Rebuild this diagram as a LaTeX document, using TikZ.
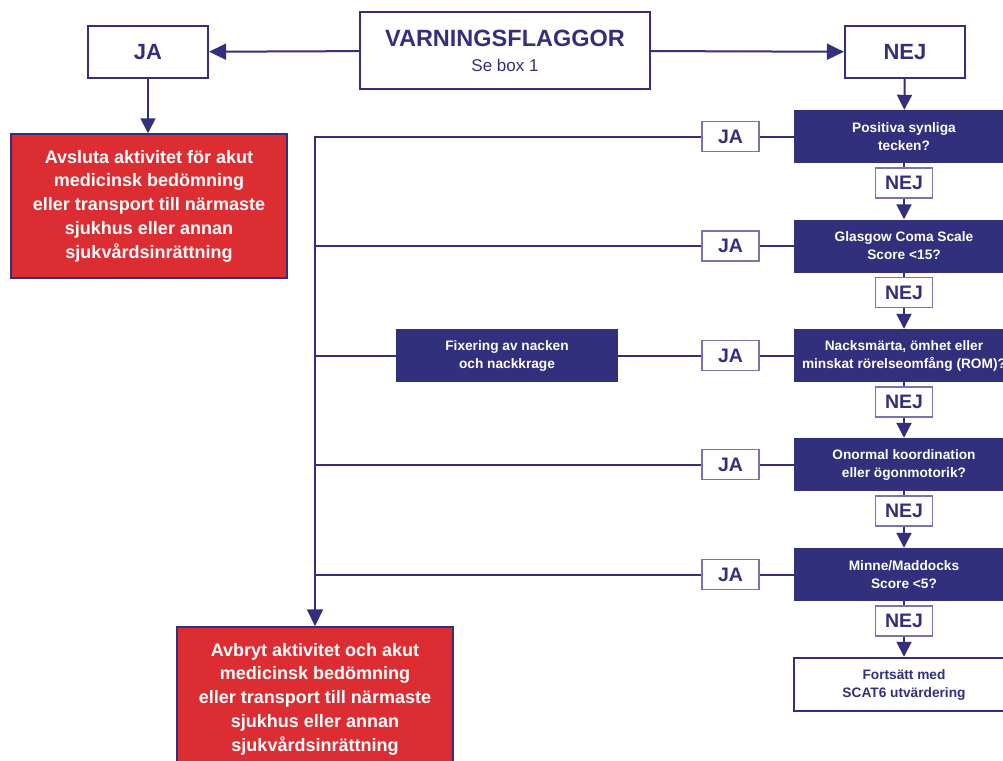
\documentclass[tikz,border=0pt]{standalone}
\usepackage{fontspec}
\setmainfont{Liberation Sans}
\usetikzlibrary{arrows.meta}

\definecolor{navy}{RGB}{50,47,125}
\definecolor{alarm}{RGB}{220,45,50}
\definecolor{lightnavy}{RGB}{120,116,175}

\tikzset{
    topbox/.style={draw=navy, line width=2.2pt, fill=white, text=navy, inner sep=0pt},
    stopbox/.style={draw=navy, line width=1.5pt, fill=alarm, text=white, align=center, inner sep=0pt,
        minimum width=276pt, minimum height=144pt, font=\bfseries\fontsize{18}{23.8}\selectfont},
    qbox/.style={fill=navy, text=white, align=center, inner sep=0pt,
        minimum width=220pt, minimum height=53pt, font=\bfseries\fontsize{13.7}{18}\selectfont},
    answer/.style={draw=lightnavy, line width=1.3pt, fill=white, text=navy, inner sep=0pt,
        minimum width=57pt, minimum height=30pt, font=\bfseries\fontsize{19.5}{19.5}\selectfont},
    link/.style={draw=navy, line width=2pt},
    arr/.style={link, -{Triangle[length=15pt,width=15pt]}},
    bigarr/.style={link, -{Triangle[length=17pt,width=16pt]}},
}

\begin{document}
\begin{tikzpicture}[x=1pt, y=-1pt]
    \useasboundingbox (0,0) rectangle (1003,760);

    % top row
    \node[topbox, minimum width=290pt, minimum height=77pt, align=center, font=\fontsize{17}{25}\selectfont] (varn) at (505,50.5)
        {{\bfseries\fontsize{23.5}{28}\selectfont VARNINGSFLAGGOR}\\Se box 1};
    \node[topbox, minimum width=120pt, minimum height=52pt, font=\bfseries\fontsize{22}{22}\selectfont] (ja) at (148,52) {JA};
    \node[topbox, minimum width=120pt, minimum height=52pt, font=\bfseries\fontsize{22}{22}\selectfont] (nej) at (905,52) {NEJ};

    \node[stopbox] (stop1) at (149,206)
        {Avsluta aktivitet för akut\\medicinsk bedömning\\eller transport till närmaste\\sjukhus eller annan\\sjukvårdsinrättning};
    \node[stopbox] (stop2) at (315,699)
        {Avbryt aktivitet och akut\\medicinsk bedömning\\eller transport till närmaste\\sjukhus eller annan\\sjukvårdsinrättning};

    % question column
    \foreach \y/\txt [count=\i] in {136.5/{Positiva synliga\\tecken?},
                                    246/{Glasgow Coma Scale\\Score <15?},
                                    355.5/{Nacksmärta, ömhet eller\\minskat rörelseomfång (ROM)?},
                                    464.5/{Onormal koordination\\eller ögonmotorik?},
                                    574.5/{Minne/Maddocks\\Score <5?}} {
        \node[qbox] (q\i) at (904,\y) {\txt};
        \node[answer] (nej\i) at (904,\y+46.5) {NEJ};
        \node[answer] (ja\i) at (730.5,\y) {JA};
    };

    \node[qbox, fill=white, text=navy, draw=navy, line width=2.5pt] (fort) at (904,684.5) {Fortsätt med\\SCAT6 utvärdering};
    \node[qbox, minimum width=222pt] (fix) at (507,355.5) {Fixering av nacken\\och nackkrage};

    \draw[bigarr] (varn) -- (ja);
    \draw[bigarr] (varn) -- (nej);
    \draw[arr] (ja) -- (ja |- stop1.north);
    \draw[arr] (nej) -- (q1);

    \foreach \i/\j in {1/2, 2/3, 3/4, 4/5} {
        \draw[link] (q\i) -- (nej\i);
        \draw[arr] (nej\i) -- (q\j);
    };
    \draw[link] (q5) -- (nej5);
    \draw[arr] (nej5) -- (fort);

    % JA side
    \coordinate (c1) at (315,136.5);
    \draw[link] (q1) -- (ja1);
    \draw[bigarr] (ja1) -- (c1) -- (stop2);
    \foreach \i in {2, 4, 5} {
        \draw[link] (q\i) -- (ja\i) -- (ja\i -| c1);
    };
    \draw[link] (q3) -- (ja3) -- (fix) -- (fix -| c1);
\end{tikzpicture}
\end{document}
